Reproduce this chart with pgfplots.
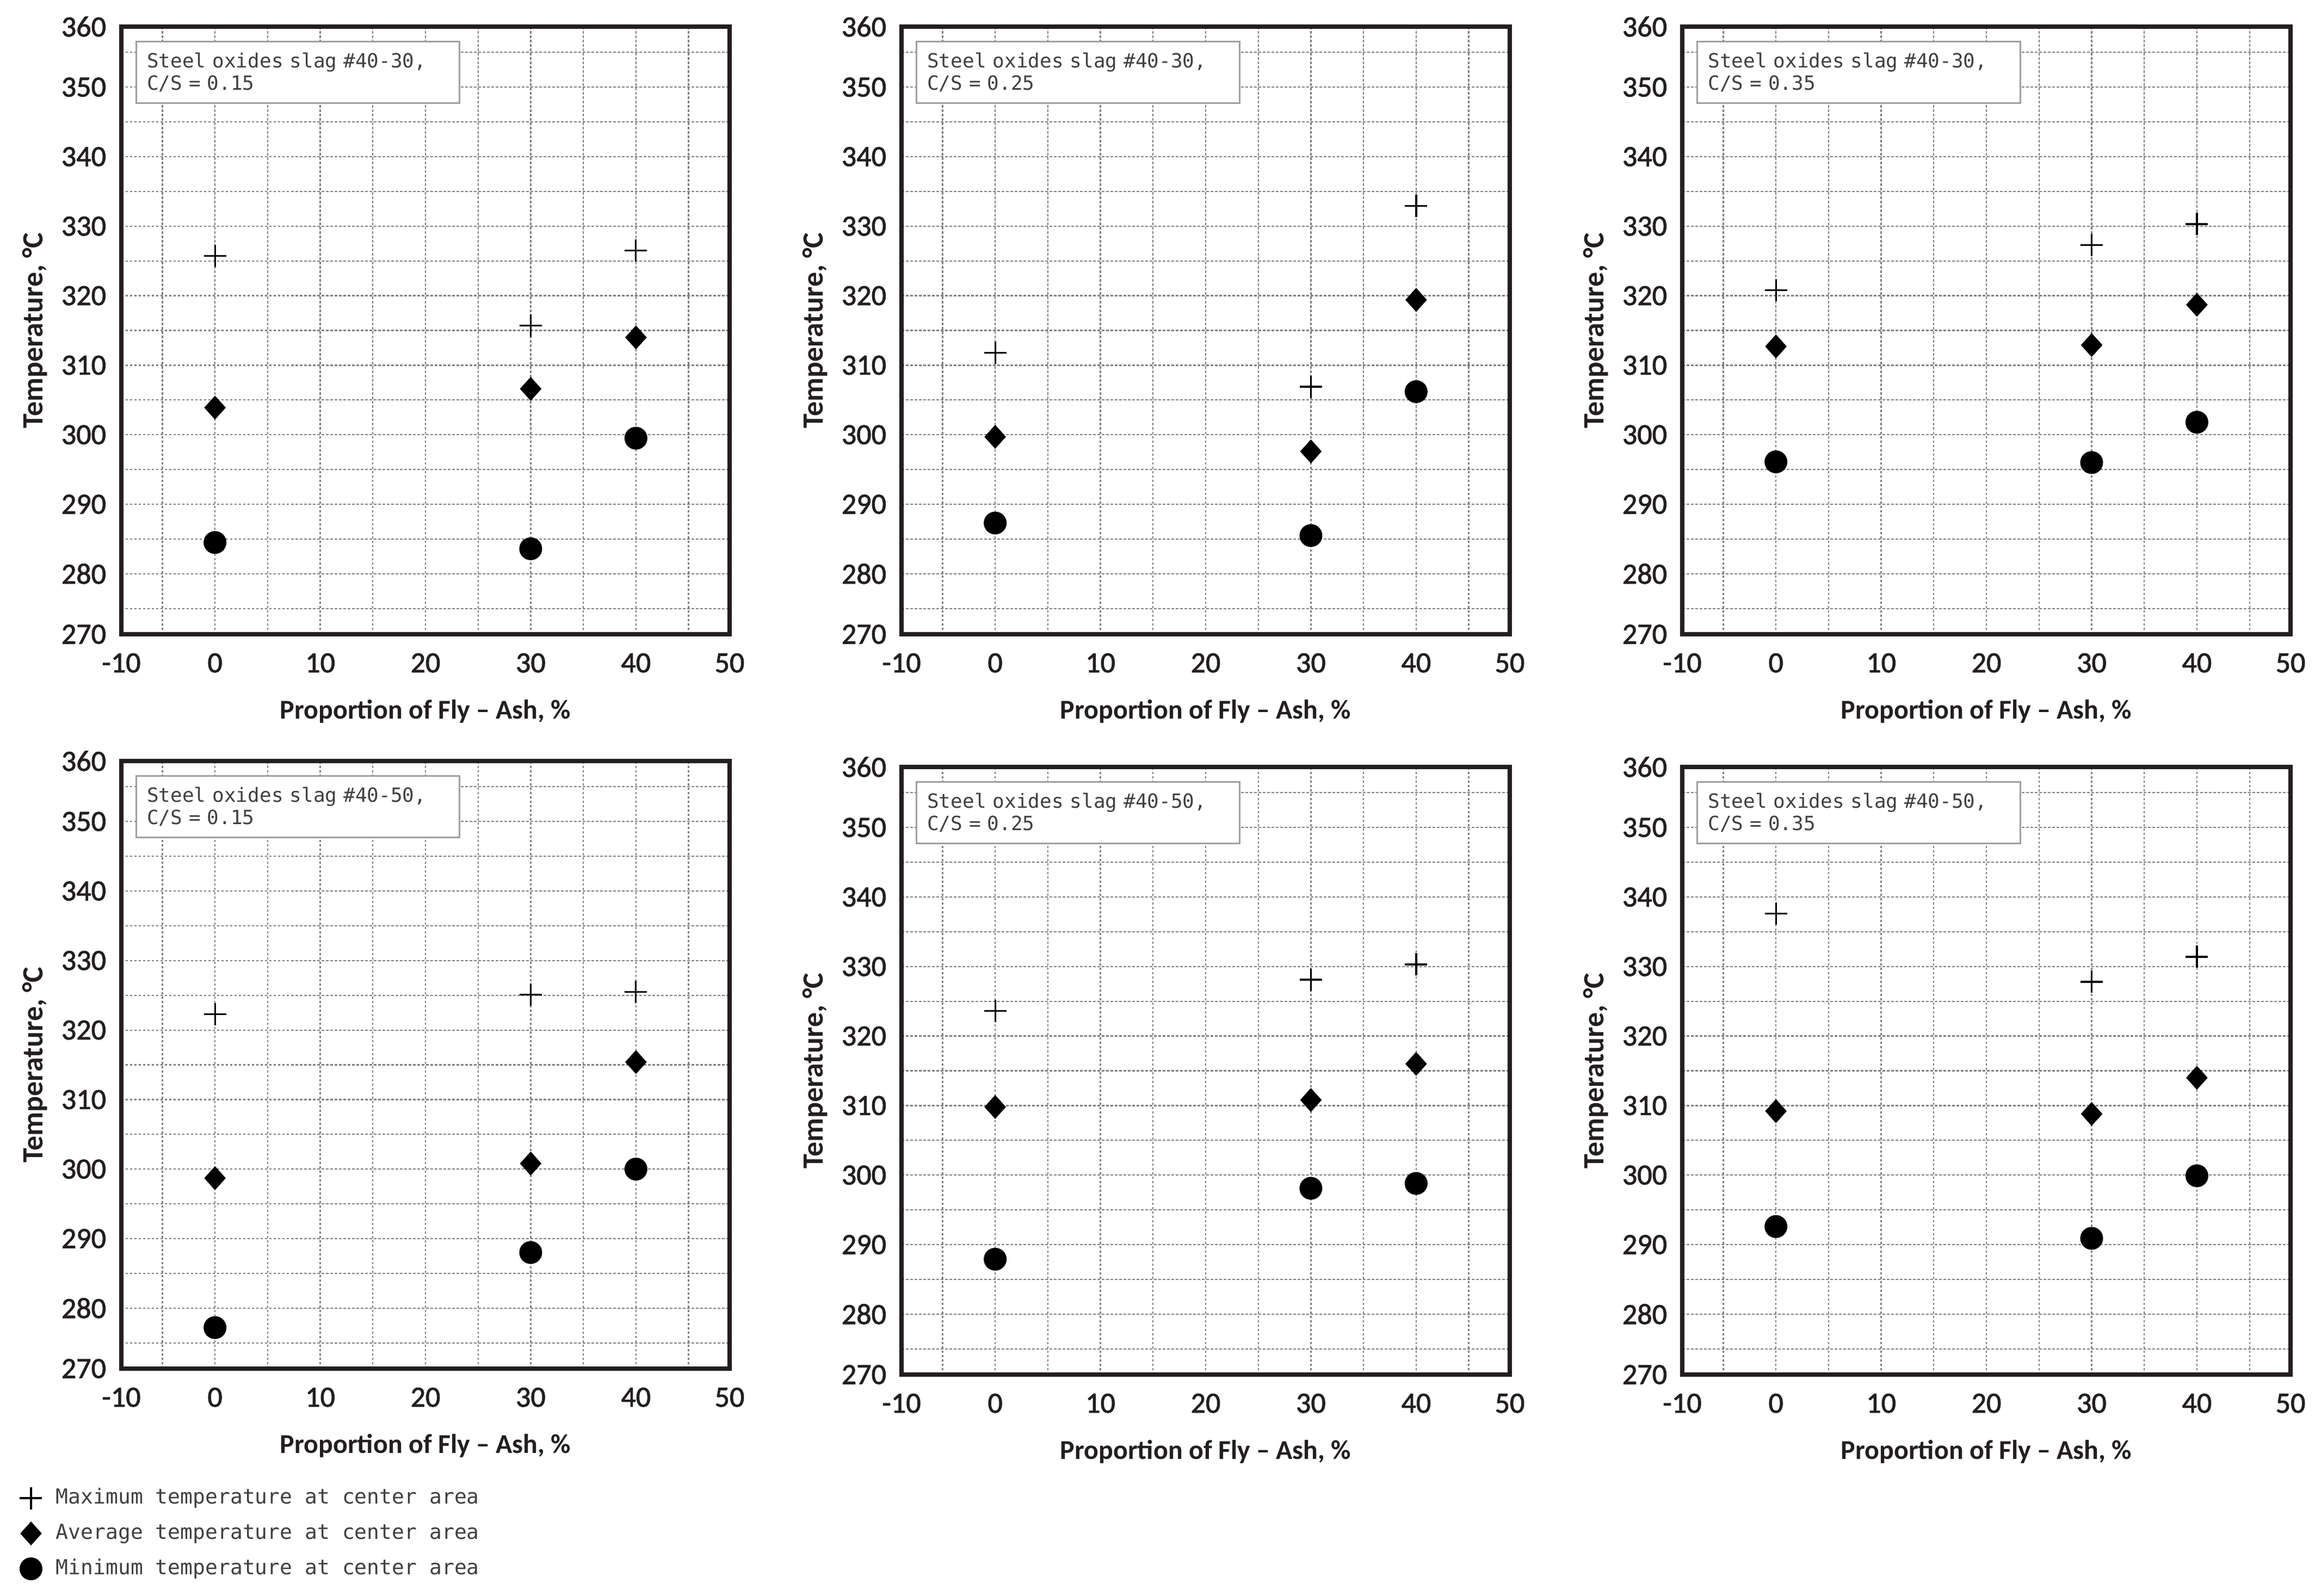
\documentclass[border=0pt]{standalone}
\usepackage{fontspec}
\setmainfont{Carlito}
\newfontfamily\tickfont{Carlito}[FakeBold=1.6]
\newfontfamily\labelfont{Carlito Bold}
\newfontfamily\monofont{DejaVu Sans Mono}
\usepackage{pgfplots}
\pgfplotsset{compat=1.18}
\definecolor{frame}{HTML}{231F20}
\pgfplotsset{
  panel/.style={
    scale only axis, width=223.6pt, height=223.4pt,
    anchor=north west, clip=false,
    xmin=-8.9, xmax=48.9, ymin=271.3, ymax=358.7,
    xtick={-8.9,0,10,20,30,40,48.9},
    xticklabels={-10,0,10,20,30,40,50},
    ytick={271.3,280,290,300,310,320,330,340,350,358.7},
    yticklabels={270,280,290,300,310,320,330,340,350,360},
    minor xtick={-5,0,5,10,15,20,25,30,35,40,45},
    minor ytick={275,280,285,290,295,300,305,310,315,320,325,330,335,340,345,350,355},
    xminorgrids, yminorgrids,
    minor grid style={dash pattern=on 0.9pt off 0.7pt, black!50, line width=0.45pt},
    major tick length=0pt, minor tick length=0pt,
    axis line style={line width=1.5pt, frame},
    tick label style={font=\tickfont\fontsize{10.8}{12}\selectfont, color=frame},
    xticklabel style={anchor=north, inner sep=0pt, yshift=-6.8pt},
    yticklabel style={anchor=east, inner sep=0pt, xshift=-5.4pt},
    xlabel={Proportion of Fly – Ash, \%},
    ylabel={Temperature, °C},
    every axis x label/.style={at={(axis description cs:0.5,-0.127)}, anchor=center, font=\labelfont\fontsize{10}{12}\selectfont, color=frame},
    every axis y label/.style={at={(axis description cs:-0.1422,0.5)}, anchor=center, rotate=90, font=\labelfont\fontsize{10.8}{12}\selectfont, color=frame},
  },
  pmax/.style={only marks, mark=+, mark size=4.1pt, mark options={line width=0.65pt, black}},
  pavg/.style={only marks, mark=diamond*, mark size=4.1pt, mark options={xscale=1.2, black, fill=black}},
  pmin/.style={only marks, mark=*, mark size=4.0pt, mark options={black, fill=black}},
}
\newcommand{\infobox}[2]{\node[draw=gray!75, line width=0.5pt, fill=white, anchor=north west, inner xsep=4pt, inner ysep=0pt, text width=110.8pt, minimum height=22.6pt, align=left, font=\monofont\fontsize{7.2}{8.2}\selectfont, text=black!75] at (axis description cs:0.0233,0.9767) {Steel oxides slag \##1,\\C/S = #2};}
\begin{document}
\begin{tikzpicture}
\useasboundingbox (0,0) rectangle (851pt,-586.6pt);
% Panel 1
\begin{axis}[panel, at={(44.6pt,-9.8pt)}]
\addplot[pmax] coordinates {(0,325.7) (30,315.7) (40,326.5)};
\addplot[pavg] coordinates {(0,303.9) (30,306.6) (40,314.0)};
\addplot[pmin] coordinates {(0,284.5) (30,283.6) (40,299.5)};
\infobox{40-30}{0.15}
\end{axis}
% Panel 2
\begin{axis}[panel, at={(331.4pt,-9.8pt)}]
\addplot[pmax] coordinates {(0,311.8) (30,306.9) (40,332.9)};
\addplot[pavg] coordinates {(0,299.7) (30,297.6) (40,319.4)};
\addplot[pmin] coordinates {(0,287.3) (30,285.5) (40,306.2)};
\infobox{40-30}{0.25}
\end{axis}
% Panel 3
\begin{axis}[panel, at={(618.4pt,-9.8pt)}]
\addplot[pmax] coordinates {(0,320.8) (30,327.3) (40,330.3)};
\addplot[pavg] coordinates {(0,312.7) (30,312.9) (40,318.7)};
\addplot[pmin] coordinates {(0,296.1) (30,296.0) (40,301.8)};
\infobox{40-30}{0.35}
\end{axis}
% Panel 4
\begin{axis}[panel, at={(44.6pt,-279.8pt)},
  legend style={at={(axis description cs:-0.1731,-0.184)}, anchor=north west, draw=none, fill=none, inner sep=0pt, outer sep=0pt, row sep=0pt, font=\monofont\fontsize{7.6}{9}\selectfont, text=black!75, nodes={inner sep=0pt}, /tikz/every odd column/.append style={column sep=3.7pt}},
  legend cell align=left,
  legend image code/.code={\path[draw=none,fill=none] (-5.5pt,-6.5pt) rectangle (5.5pt,6.5pt); \draw[#1] plot coordinates {(0pt,0pt)};}]
\addplot[pmax] coordinates {(0,322.3) (30,325.1) (40,325.5)};
\addplot[pavg] coordinates {(0,298.7) (30,300.8) (40,315.4)};
\addplot[pmin] coordinates {(0,277.2) (30,288.0) (40,300.0)};
\infobox{40-50}{0.15}
\legend{Maximum temperature at center area, Average temperature at center area, Minimum temperature at center area}
\end{axis}
% Panel 5
\begin{axis}[panel, at={(331.4pt,-282.0pt)}]
\addplot[pmax] coordinates {(0,323.6) (30,328.1) (40,330.3)};
\addplot[pavg] coordinates {(0,309.8) (30,310.8) (40,316.0)};
\addplot[pmin] coordinates {(0,287.9) (30,298.1) (40,298.8)};
\infobox{40-50}{0.25}
\end{axis}
% Panel 6
\begin{axis}[panel, at={(618.4pt,-282.0pt)}]
\addplot[pmax] coordinates {(0,337.6) (30,327.8) (40,331.4)};
\addplot[pavg] coordinates {(0,309.2) (30,308.8) (40,314.0)};
\addplot[pmin] coordinates {(0,292.6) (30,290.9) (40,299.9)};
\infobox{40-50}{0.35}
\end{axis}
\end{tikzpicture}
\end{document}
